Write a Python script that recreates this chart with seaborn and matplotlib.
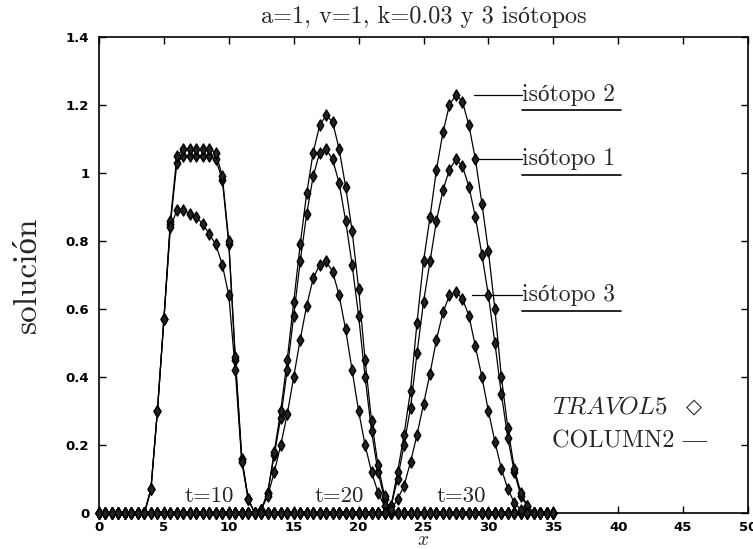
import numpy as np
import pandas as pd
import seaborn as sns
import matplotlib.pyplot as plt
from matplotlib.ticker import FuncFormatter

# grid of the solution, every 0.5 from 0 to 35 (zero outside each pulse)
x_step = 0.5
x_grid = np.arange(0, 35.0 + x_step / 2, x_step)

# t=10 pulse, values from x=3.0 to x=12.0
t10_start = 3.0
t10_iso1 = [0.0, 0.0, 0.07, 0.30, 0.57, 0.85, 1.03, 1.05, 1.05, 1.05, 1.05, 1.05, 1.04, 0.98, 0.79, 0.45, 0.16, 0.04, 0.0]
t10_iso2 = [0.0, 0.0, 0.07, 0.30, 0.57, 0.86, 1.05, 1.07, 1.07, 1.07, 1.07, 1.07, 1.06, 0.99, 0.80, 0.46, 0.16, 0.04, 0.0]
t10_iso3 = [0.0, 0.0, 0.07, 0.30, 0.57, 0.84, 0.89, 0.89, 0.88, 0.87, 0.85, 0.82, 0.79, 0.73, 0.64, 0.42, 0.15, 0.04, 0.0]

# t=20 pulse, values from x=12.0 to x=22.5
t20_start = 12.0
t20_iso1 = [0.0, 0.01, 0.06, 0.17, 0.28, 0.42, 0.58, 0.74, 0.88, 0.99, 1.06, 1.07, 1.04, 0.97, 0.86, 0.73, 0.58, 0.40, 0.24, 0.12, 0.04, 0.0]
t20_iso2 = [0.0, 0.01, 0.06, 0.18, 0.30, 0.45, 0.62, 0.79, 0.94, 1.06, 1.14, 1.17, 1.15, 1.07, 0.96, 0.83, 0.66, 0.45, 0.27, 0.14, 0.05, 0.0]
t20_iso3 = [0.0, 0.01, 0.05, 0.12, 0.20, 0.29, 0.40, 0.51, 0.61, 0.69, 0.73, 0.74, 0.71, 0.64, 0.54, 0.42, 0.30, 0.20, 0.12, 0.06, 0.02, 0.0]

# t=30 pulse, values from x=22.0 to x=33.5
t30_start = 22.0
t30_iso1 = [0.0, 0.02, 0.10, 0.20, 0.31, 0.47, 0.62, 0.74, 0.86, 0.95, 1.01, 1.04, 1.02, 0.96, 0.87, 0.76, 0.64, 0.50, 0.35, 0.22, 0.12, 0.05, 0.02, 0.0]
t30_iso2 = [0.0, 0.02, 0.12, 0.23, 0.36, 0.56, 0.74, 0.87, 1.01, 1.12, 1.20, 1.23, 1.21, 1.14, 1.04, 0.91, 0.77, 0.60, 0.40, 0.25, 0.13, 0.06, 0.02, 0.0]
t30_iso3 = [0.0, 0.01, 0.04, 0.08, 0.15, 0.23, 0.32, 0.41, 0.51, 0.59, 0.64, 0.65, 0.63, 0.58, 0.49, 0.40, 0.30, 0.21, 0.13, 0.07, 0.03, 0.01, 0.0, 0.0]

curves = {
    't10_1': (t10_start, t10_iso1), 't10_2': (t10_start, t10_iso2), 't10_3': (t10_start, t10_iso3),
    't20_1': (t20_start, t20_iso1), 't20_2': (t20_start, t20_iso2), 't20_3': (t20_start, t20_iso3),
    't30_1': (t30_start, t30_iso1), 't30_2': (t30_start, t30_iso2), 't30_3': (t30_start, t30_iso3),
}

time_labels = ['t=10', 't=20', 't=30']
time_label_x = [8.5, 18.5, 27.9]

iso_labels = ['isótopo 2', 'isótopo 1', 'isótopo 3']
iso_label_y = [1.23, 1.04, 0.64]
iso_line_x0 = [28.9, 28.8, 28.7]

frames = []
for name, (start, vals) in curves.items():
    u = np.zeros(len(x_grid))
    i0 = int(round(start / x_step))
    u[i0:i0 + len(vals)] = vals
    frames.append(pd.DataFrame({'x': x_grid, 'u': u, 'curve': name}))
df = pd.concat(frames, ignore_index=True)

sns.set_theme(style='ticks')
plt.rcParams['font.family'] = ['cmr10', 'Liberation Serif', 'DejaVu Sans']
plt.rcParams['mathtext.fontset'] = 'cm'
plt.rcParams['axes.unicode_minus'] = False
plt.rcParams['axes.formatter.use_mathtext'] = True

fig = plt.figure(figsize=(7.53, 5.49), dpi=100)
ax = fig.add_axes([99 / 753, 1 - 513 / 549, 649 / 753, 476 / 549])

sns.lineplot(data=df, x='x', y='u', units='curve', estimator=None, sort=False,
             color='black', lw=0.9, ax=ax, legend=False)
sns.scatterplot(data=df, x='x', y='u', marker='d', s=32, color='black',
                facecolor='#222222', edgecolor='black', linewidth=1.0, ax=ax,
                legend=False, clip_on=False, zorder=3)

ax.set_xlim(0, 50)
ax.set_ylim(0, 1.4)
ax.set_xticks(np.arange(0, 51, 5))
ax.set_yticks(np.arange(0, 1.41, 0.2))
ax.xaxis.set_major_formatter(FuncFormatter(lambda v, p: '%g' % v))
ax.yaxis.set_major_formatter(FuncFormatter(lambda v, p: '%g' % round(v, 1)))
ax.tick_params(direction='in', top=True, right=True, length=5, width=1,
               labelsize=9.5, colors='black')
ax.tick_params(axis='y', pad=7)
ax.tick_params(axis='x', pad=6)
for lbl in ax.get_xticklabels() + ax.get_yticklabels():
    lbl.set_family('DejaVu Sans')
    lbl.set_fontweight('bold')
for sp in ax.spines.values():
    sp.set_linewidth(1.2)
    sp.set_color('black')

ax.set_title('a=1, v=1, k=0.03 y 3 isótopos', fontsize=17.5, pad=10)
ax.set_xlabel('$x$', fontsize=14, labelpad=-2.5)
ax.set_ylabel('solución', fontsize=24)
ax.yaxis.set_label_coords(-0.088, 0.5)

for txt, xt in zip(time_labels, time_label_x):
    ax.text(xt, 0.05, txt, ha='center', va='center', fontsize=16.5)

for txt, yl, x0 in zip(iso_labels, iso_label_y, iso_line_x0):
    ax.plot([x0, 32.6], [yl, yl], color='black', lw=0.9)
    ax.text(32.6, yl, txt, ha='left', va='center', fontsize=17)
    ax.plot([32.6, 40.2], [yl - 0.045, yl - 0.045], color='black', lw=1.2)

ax.text(34.9, 0.31, r'$TRAVOL5$', ha='left', va='center', fontsize=18)
ax.text(45.85, 0.31, '◇', ha='center', va='center', fontsize=15,
        family='DejaVu Sans')
ax.text(34.9, 0.21, 'COLUMN2 —', ha='left', va='center', fontsize=17.5)

fig.savefig('out.png', dpi=100)
